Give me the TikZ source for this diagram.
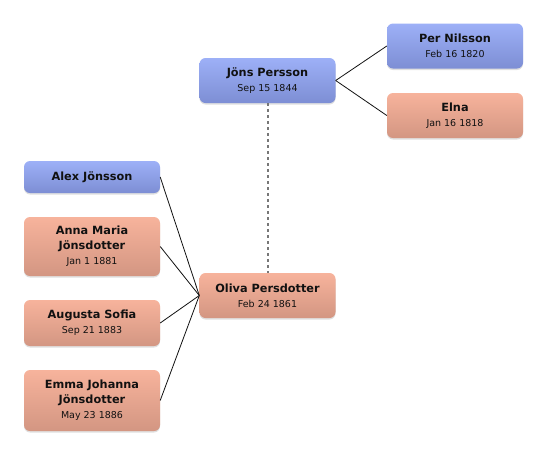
\documentclass[tikz,border=0pt]{standalone}
\usepackage{fontspec}
\setmainfont{DejaVu Sans}
\usetikzlibrary{shadows}
\definecolor{ink}{HTML}{111111}
\definecolor{maletop}{HTML}{9DB0F7}
\definecolor{malebot}{HTML}{7D8ED4}
\definecolor{femtop}{HTML}{F7B39C}
\definecolor{fembot}{HTML}{D39682}
\definecolor{dashgray}{HTML}{777777}
\newcommand{\pname}[1]{{\bfseries #1}}
\newcommand{\pdate}[1]{{\fontsize{9.5}{14.5}\selectfont #1}}
\tikzset{
 every node/.append style={text=ink,align=center},
 person/.style={rounded corners=6pt,minimum width=136pt,minimum height=45pt,inner sep=2pt,
   font=\fontsize{11.3}{15}\selectfont,
   drop shadow={shadow xshift=0pt,shadow yshift=-1.5pt,opacity=.25}},
 male/.style={person,top color=maletop,bottom color=malebot},
 female/.style={person,top color=femtop,bottom color=fembot},
 link/.style={draw=ink,line width=.8pt},
 spouse/.style={draw=dashgray,line width=2pt,dash pattern=on 3pt off 3pt},
}
\begin{document}
\begin{tikzpicture}[x=1pt,y=-1pt]
\useasboundingbox (0,0) rectangle (546,456);

% parents of the husband
\node[male] (per) at (455,46) {\pname{Per Nilsson}\\\pdate{Feb 16 1820}};
\node[female] (elna) at (455,115.5) {\pname{Elna}\\\pdate{Jan 16 1818}};

% the couple
\node[male] (jons) at (267.5,80.5) {\pname{Jöns Persson}\\\pdate{Sep 15 1844}};
\node[female] (oliva) at (267.5,295.5) {\pname{Oliva Persdotter}\\\pdate{Feb 24 1861}};

% children
\node[male,minimum height=32pt] (alex) at (92,177) {\pname{Alex Jönsson}};
\node[female,minimum height=59pt] (anna) at (92,246.5)
  {\pname{Anna Maria}\\\pname{Jönsdotter}\\\pdate{Jan 1 1881}};
\node[female,minimum height=46pt] (augusta) at (92,323)
  {\pname{Augusta Sofia}\\\pdate{Sep 21 1883}};
\node[female,minimum height=61pt] (emma) at (92,400.5)
  {\pname{Emma Johanna}\\\pname{Jönsdotter}\\\pdate{May 23 1886}};

\draw[link] (jons.east) -- (per.west);
\draw[link] (jons.east) -- (elna.west);
\draw[spouse] (jons.south) -- (oliva.north);
\foreach \c in {alex,anna,augusta,emma}
  \draw[link] (oliva.west) -- (\c.east);
\end{tikzpicture}
\end{document}
